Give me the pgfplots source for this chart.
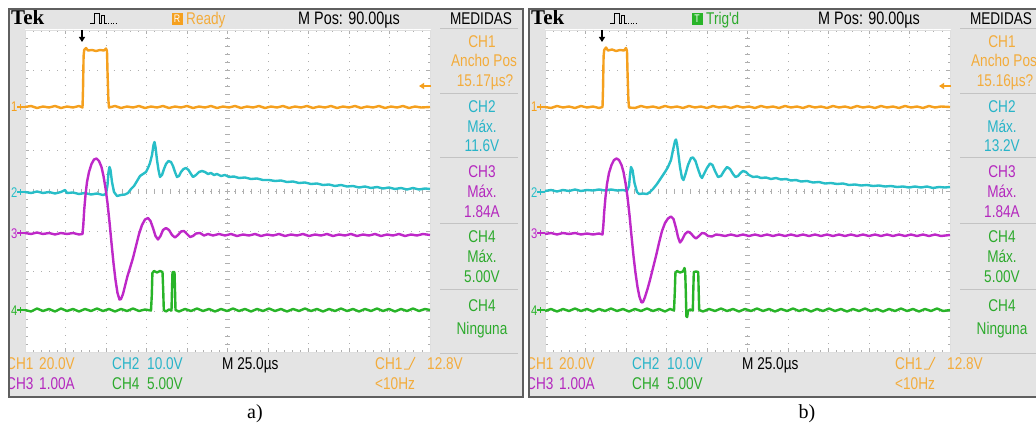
\documentclass[border=0pt]{standalone}
\usepackage{pgfplots}
\pgfplotsset{compat=1.18}
\usepackage{fontspec}
\usetikzlibrary{arrows.meta}
\setmainfont{Liberation Serif}
\newfontfamily\tek{Liberation Sans}[FakeStretch=0.8]
\newfontfamily\tekser{Liberation Serif}
\newcommand{\tekf}{\tek\fontsize{17}{17}\selectfont}
\definecolor{ch1}{RGB}{245,160,30}
\definecolor{ch1t}{RGB}{243,172,60}
\definecolor{ch2}{RGB}{40,190,200}
\definecolor{ch2t}{RGB}{40,180,200}
\definecolor{ch3}{RGB}{190,40,200}
\definecolor{ch3t}{RGB}{180,40,190}
\definecolor{ch4}{RGB}{40,180,40}
\definecolor{ch4t}{RGB}{45,170,45}
\definecolor{panelc}{RGB}{228,228,228}
\definecolor{gridc}{RGB}{175,175,175}
\definecolor{sepc}{RGB}{195,195,195}
\definecolor{framec}{RGB}{95,95,95}

\pgfplotsset{scopeax/.style={
  anchor=south west, width=405pt, height=322pt, scale only axis,
  xmin=25, xmax=430, ymin=-352, ymax=-30, clip=false,
  xtick={25,65.5,106,146.5,187,227.5,268,308.5,349,389.5,430},
  ytick={-352,-311.75,-271.5,-231.25,-191,-150.75,-110.5,-70.25,-30},
  xticklabels={}, yticklabels={},
  minor x tick num=4, minor y tick num=4,
  tick align=inside, major tick length=4pt, minor tick length=2.5pt,
  tick style={gridc, line width=0.8pt},
  axis line style={gridc!40, line width=0.4pt},
  grid=major,
  major grid style={draw=gridc, line width=0.9pt, dash pattern=on 0.9pt off 7.15pt},
  every axis plot/.append style={line width=2.4pt, line join=round}
}}

\newcommand{\bg}[1]{\begin{scope}[xshift=#1pt]
\fill[panelc] (9,-9) rectangle (523,-397);
\fill[white] (25,-29) rectangle (431,-352);
\foreach \i in {0,...,50}{\draw[gridc,line width=0.8pt] ({25+8.1*\i},-188.5) -- ({25+8.1*\i},-193.5);}
\foreach \i in {0,...,40}{\draw[gridc,line width=0.8pt] (225,{-30-8.05*\i}) -- (230,{-30-8.05*\i});}
\foreach \yy in {29,94,158,223,289,353}{\draw[sepc,line width=1pt] (440,-\yy) -- (518,-\yy);}
\end{scope}}

\newcommand{\chmark}[3]{%
 \node[anchor=base west,inner sep=0,text=#1,font=\tek\fontsize{14}{14}\selectfont] at (11,{-#2-5}) {#3};
 \draw[#1,line width=1.3pt] (17,-#2) -- (25,-#2);
 \draw[#1,line width=1.3pt] (20.5,{-#2+3}) -- (20.5,{-#2-3});}

\newcommand{\fg}[9]{\begin{scope}[xshift=#1pt]
 \begin{scope}
 \clip (9,-9) rectangle (523,-397);
 \node[anchor=base west,inner sep=0,font=\tekser\bfseries\fontsize{21}{21}\selectfont] at (11,-25) {Tek};
 \draw[line width=0.9pt] (90,-23)--(94,-23)--(94,-13)--(99,-13)--(99,-23)--(101,-23)--(101,-15)--(104,-15)--(104,-23)--(107,-23);
 \draw[line width=0.9pt, dash pattern=on 1pt off 1.5pt] (108,-23)--(118,-23);
 \node[fill=#2,text=white,inner sep=0pt,minimum width=11pt,minimum height=12pt,font=\tek\fontsize{11}{11}\selectfont] at (177,-19) {#3};
 \node[anchor=base west,inner sep=0,text=#5,font=\tekf] at (186,-25) {#4};
 \node[anchor=base west,inner sep=0,font=\tek\fontsize{18}{18}\selectfont] at (298,-25) {M Pos: 90.00µs};
 \node[anchor=base,inner sep=0,font=\tekf] at (481,-25) {MEDIDAS};
 \node[anchor=base,inner sep=0,text=ch1t,font=\tekf] at (482,-48) {CH1};
 \node[anchor=base,inner sep=0,text=ch1t,font=\tekf] at (484,-67) {Ancho Pos};
 \node[anchor=base,inner sep=0,text=ch1t,font=\tekf] at (485,-87) {#6};
 \node[anchor=base,inner sep=0,text=ch2t,font=\tekf] at (482,-113) {CH2};
 \node[anchor=base,inner sep=0,text=ch2t,font=\tekf] at (482,-132) {Máx.};
 \node[anchor=base,inner sep=0,text=ch2t,font=\tekf] at (482,-152) {#7};
 \node[anchor=base,inner sep=0,text=ch3t,font=\tekf] at (482,-177) {CH3};
 \node[anchor=base,inner sep=0,text=ch3t,font=\tekf] at (482,-197) {Máx.};
 \node[anchor=base,inner sep=0,text=ch3t,font=\tekf] at (482,-217) {1.84A};
 \node[anchor=base,inner sep=0,text=ch4t,font=\tekf] at (482,-242) {CH4};
 \node[anchor=base,inner sep=0,text=ch4t,font=\tekf] at (482,-262) {Máx.};
 \node[anchor=base,inner sep=0,text=ch4t,font=\tekf] at (482,-282) {5.00V};
 \node[anchor=base,inner sep=0,text=ch4t,font=\tekf] at (482,-311) {CH4};
 \node[anchor=base,inner sep=0,text=ch4t,font=\tekf] at (482,-334) {Ninguna};
 \node[anchor=base west,inner sep=0,text=ch1t,font=\tekf] at (6,-369) {CH1};
 \node[anchor=base west,inner sep=0,text=ch1t,font=\tekf] at (39,-369) {20.0V};
 \node[anchor=base west,inner sep=0,text=ch2t,font=\tekf] at (112,-369) {CH2};
 \node[anchor=base west,inner sep=0,text=ch2t,font=\tekf] at (147,-369) {10.0V};
 \node[anchor=base west,inner sep=0,font=\tekf] at (222,-369) {M 25.0µs};
 \node[anchor=base west,inner sep=0,text=ch1t,font=\tekf] at (375,-369) {CH1};
 \draw[ch1t,line width=1pt] (404,-369) -- (409,-369) -- (415,-357);
 \node[anchor=base west,inner sep=0,text=ch1t,font=\tekf] at (427,-369) {12.8V};
 \node[anchor=base west,inner sep=0,text=ch3t,font=\tekf] at (6,-389) {CH3};
 \node[anchor=base west,inner sep=0,text=ch3t,font=\tekf] at (39,-389) {1.00A};
 \node[anchor=base west,inner sep=0,text=ch4t,font=\tekf] at (112,-389) {CH4};
 \node[anchor=base west,inner sep=0,text=ch4t,font=\tekf] at (147,-389) {5.00V};
 \node[anchor=base west,inner sep=0,text=ch1t,font=\tekf] at (375,-389) {<10Hz};
 \end{scope}
 \draw[framec,line width=1.6pt] (9,-9) rectangle (523,-397);
 \chmark{ch1}{107}{1}
 \chmark{ch2}{192}{2}
 \chmark{ch3}{233}{3}
 \chmark{ch4}{310}{4}
 \draw[-{Triangle[length=5pt,width=6pt]},line width=1.5pt] (82,-30) -- (82,-42);
 \draw[ch1,-{Triangle[length=5pt,width=6pt]},line width=1.5pt] (431,-86) -- (419,-86);
 \node[anchor=base,inner sep=0,font=\fontsize{20}{20}\selectfont] at (#9,-418) {#8};
\end{scope}}

\begin{document}
\begin{tikzpicture}[x=1pt,y=1pt]
\path[use as bounding box] (0,0) rectangle (1036,-425);
\bg{0}
\bg{520}
% ---------------- panel a ----------------
\begin{axis}[scopeax, at={(25pt,-352pt)}]
\addplot[ch1] coordinates {(25,-107) (31,-106) (37,-108) (43,-106.5) (49,-107.5) (55,-106) (61,-108) (67,-106.5) (73,-107.5) (79,-106) (82.5,-107.5) (83,-90) (83.6,-56) (84.2,-50) (86,-48) (88,-50.5) (92,-50) (96,-51) (100,-50) (104,-50.5) (106,-48.5) (107,-51) (107.6,-75) (108.4,-100) (109,-107.5) (115,-106) (121,-108) (127,-106.5) (133,-107.5) (139,-106) (145,-108) (151,-106.5) (157,-107.5) (163,-106) (169,-108) (175,-106.5) (181,-107.5) (187,-106) (193,-108) (199,-106.5) (205,-107.5) (211,-106) (217,-108) (223,-106.5) (229,-107.5) (235,-106) (241,-108) (247,-106.5) (253,-107.5) (259,-106) (265,-108) (271,-106.5) (277,-107.5) (283,-106) (289,-108) (295,-106.5) (301,-107.5) (307,-106) (313,-108) (319,-106.5) (325,-107.5) (331,-106) (337,-108) (343,-106.5) (349,-107.5) (355,-106) (361,-108) (367,-106.5) (373,-107.5) (379,-106) (385,-108) (391,-106.5) (397,-107.5) (403,-106) (409,-108) (415,-106.5) (421,-107.5) (430,-107)};
\addplot[ch2] coordinates {(25,-192) (31,-193) (37,-191.5) (43,-193) (49,-192) (55,-193.5) (61,-192) (65,-190) (67,-193) (73,-192.5) (79,-194) (85,-193) (91,-194.5) (97,-193.5) (103,-195) (106,-194) (107.5,-185) (108.5,-172) (109.5,-167) (110.5,-170) (112,-182) (114,-192) (117,-196) (121,-195) (125,-194.5) (128,-193) (131,-189) (134,-186) (137,-181) (140,-176) (143,-174) (146,-172) (148,-168) (150,-163) (152,-155) (153.5,-145) (154.5,-142) (155.5,-147) (157,-160) (158.5,-170) (160,-177) (162,-175) (164,-169) (166,-164) (168.5,-161) (171,-162) (173,-166) (175,-172) (177,-177) (179,-176) (181,-172) (183.5,-169) (186,-168) (188.5,-170) (191,-174) (193,-177) (196,-175) (199,-172) (202,-171) (205,-172) (208,-174) (211,-173) (214,-175) (217,-174) (221,-176) (225,-175) (229,-177) (234,-176.5) (239,-178) (245,-177.5) (251,-179) (257,-178.5) (263,-180) (269,-180) (275,-181) (281,-180.5) (287,-182) (293,-181.5) (299,-183) (305,-182.5) (311,-184) (317,-183.5) (323,-185) (329,-184.5) (335,-186) (341,-185) (347,-186.5) (353,-186) (359,-187.5) (365,-186.5) (371,-188) (377,-187) (383,-188.5) (389,-187.5) (395,-189) (401,-188) (407,-189.5) (413,-188) (419,-189.5) (425,-188.5) (430,-189)};
\addplot[ch3] coordinates {(25,-233) (31,-234) (37,-232.5) (43,-234) (49,-233) (55,-234.5) (61,-233) (67,-234) (73,-233) (79,-234.5) (82.5,-234) (83.3,-225) (84.2,-210) (85.5,-195) (87,-182) (89,-172) (91.5,-164) (94,-159.5) (96.5,-158.5) (99,-161) (101.5,-167) (103.5,-176) (105.5,-188) (107.5,-203) (109.5,-222) (111.5,-243) (113.5,-263) (115.5,-280) (117.5,-293) (119.5,-299.5) (121,-299) (123,-294) (125,-286) (127.5,-276) (130,-268) (133,-258) (136,-246) (139,-234) (142,-225) (145,-219.5) (148,-218) (150.5,-221) (153,-228) (155.5,-236) (158,-239.5) (160.5,-236) (163,-230) (166,-228) (169,-230) (172,-235) (175,-237.5) (178,-235) (181,-231.5) (184,-231) (187,-234) (190,-237) (193,-236) (196,-233.5) (200,-233) (204,-235.5) (208,-234) (213,-235.5) (219,-234) (225,-235.5) (231,-234) (237,-236) (243,-234.5) (249,-235.5) (255,-234) (261,-236) (267,-234.5) (273,-235.5) (279,-234) (285,-236) (291,-234.5) (297,-235.5) (303,-234) (309,-236) (315,-234.5) (321,-235.5) (327,-234) (333,-236) (339,-234.5) (345,-235.5) (351,-234) (357,-236) (363,-234.5) (369,-235.5) (375,-234) (381,-236) (387,-234.5) (393,-235.5) (399,-234) (405,-236) (411,-234.5) (417,-235.5) (423,-234) (430,-235)};
\addplot[ch4] coordinates {(25,-310) (31,-311.5) (37,-308.5) (43,-311) (49,-309) (55,-311.5) (61,-308.5) (67,-311) (73,-309) (79,-311.5) (85,-309) (91,-311) (97,-308.5) (103,-311) (109,-309) (115,-311.5) (121,-309) (127,-311) (133,-308.5) (139,-311) (145,-309.5) (151,-310.5) (151.8,-295) (152.4,-273) (154,-271) (157,-272.5) (160,-271) (162.5,-272) (163.2,-290) (163.8,-310) (166,-311.5) (169,-309.5) (171.5,-310.5) (172,-290) (172.5,-272) (174.5,-272) (175,-290) (175.5,-310) (179,-311.5) (185,-309) (191,-311) (197,-308.5) (203,-311) (209,-309) (215,-311.5) (221,-309) (227,-311) (233,-308.5) (239,-311) (245,-309) (251,-311.5) (257,-309) (263,-311) (269,-308.5) (275,-311) (281,-309) (287,-311.5) (293,-309) (299,-311) (305,-308.5) (311,-311) (317,-309) (323,-311.5) (329,-309) (335,-311) (341,-308.5) (347,-311) (353,-309) (359,-311.5) (365,-309) (371,-311) (377,-308.5) (383,-311) (389,-309) (395,-311.5) (401,-309) (407,-311) (413,-308.5) (419,-311) (425,-309) (430,-310)};
\end{axis}
% ---------------- panel b ----------------
\begin{axis}[scopeax, at={(545pt,-352pt)}]
\addplot[ch1] coordinates {(25,-107) (31,-108) (37,-106) (43,-107.5) (49,-106.5) (55,-108) (61,-106) (67,-107.5) (73,-106.5) (79,-108) (82.5,-107) (83,-90) (83.6,-56) (84.2,-50) (86,-47.5) (88,-50.5) (92,-49.5) (96,-51) (100,-50) (104,-50.5) (106,-48) (107,-51) (107.6,-75) (108.4,-100) (109,-107.5) (115,-108) (121,-106) (127,-107.5) (133,-106.5) (139,-108) (145,-106) (151,-107.5) (157,-106.5) (163,-108) (169,-106) (175,-107.5) (181,-106.5) (187,-108) (193,-106) (199,-107.5) (205,-106.5) (211,-108) (217,-106) (223,-107.5) (229,-106.5) (235,-108) (241,-106) (247,-107.5) (253,-106.5) (259,-108) (265,-106) (271,-107.5) (277,-106.5) (283,-108) (289,-106) (295,-107.5) (301,-106.5) (307,-108) (313,-106) (319,-107.5) (325,-106.5) (331,-108) (337,-106) (343,-107.5) (349,-106.5) (355,-108) (361,-106) (367,-107.5) (373,-106.5) (379,-108) (385,-106) (391,-107.5) (397,-106.5) (403,-108) (409,-106) (415,-107.5) (421,-106.5) (430,-107)};
\addplot[ch2] coordinates {(25,-191) (31,-190) (37,-191.5) (43,-190) (49,-191) (55,-189.5) (61,-191) (67,-190) (73,-190.5) (79,-189.5) (85,-190.5) (91,-189.5) (97,-190.5) (103,-190) (107,-191) (109,-186) (110,-175) (111,-167) (112.5,-170) (114.5,-183) (117,-192) (119,-194) (123,-193.5) (127,-194) (130,-192) (133,-189) (137,-184) (141,-178) (145,-172) (148,-167) (151,-160) (153,-150) (155,-141) (156,-139.5) (157,-144) (158.5,-155) (160,-167) (162,-178) (163.5,-180) (165.5,-174) (168,-165) (171,-158) (173,-157.5) (175.5,-161) (178,-169) (180.5,-176) (182,-178) (184,-174) (187,-168) (190,-163.5) (192.5,-165) (195,-171) (198,-177) (201,-176) (204,-171) (207,-167) (210,-169) (213,-174) (215.5,-177) (218,-176) (220.5,-173) (223,-171) (226,-172) (229,-175) (233,-177) (237,-176.5) (241,-178) (246,-177.5) (251,-179) (256,-178) (261,-179.5) (266,-179) (271,-180.5) (276,-180) (281,-181.5) (287,-181) (293,-182.5) (299,-182) (305,-183.5) (311,-183) (317,-184) (323,-183.5) (329,-185) (335,-184.5) (341,-185.5) (347,-185) (353,-186) (359,-185.5) (365,-186.5) (371,-186) (377,-187) (383,-186.5) (389,-187.5) (395,-186.5) (401,-187.5) (407,-186.5) (413,-188) (419,-187) (425,-187.5) (430,-187)};
\addplot[ch3] coordinates {(25,-234) (31,-233) (37,-234.5) (43,-233) (49,-234) (55,-233) (61,-234.5) (67,-233.5) (73,-234.5) (79,-233.5) (82.5,-234.5) (83.3,-226) (84.2,-212) (85.5,-197) (87,-184) (89,-173) (91.5,-165) (94,-160) (96.5,-158.5) (99,-160) (101.5,-165) (103.5,-172) (105.5,-183) (107.5,-197) (109.5,-215) (111.5,-236) (113.5,-256) (115.5,-273) (117.5,-287) (119.5,-297) (121.5,-302.5) (123,-302) (125,-297) (127.5,-289) (130,-280) (133,-268) (136,-256) (139,-243) (142,-231) (145,-223) (148,-218.5) (151,-216.5) (153.5,-219) (156,-228) (158,-237) (160,-242.5) (162,-240) (165,-234) (168,-231.5) (171,-233.5) (174,-237) (176,-238.5) (179,-236) (182,-233) (185,-233.5) (188,-236) (192,-236.5) (196,-234.5) (200,-235) (205,-236) (211,-234.5) (217,-236) (223,-234.5) (229,-236) (235,-234.5) (241,-236) (247,-234.5) (253,-236) (259,-234.5) (265,-236) (271,-234.5) (277,-236) (283,-234.5) (289,-236) (295,-234.5) (301,-236) (307,-234.5) (313,-236) (319,-234.5) (325,-236) (331,-234.5) (337,-236) (343,-234.5) (349,-236) (355,-234.5) (361,-236) (367,-234.5) (373,-236) (379,-234.5) (385,-236) (391,-234.5) (397,-236) (403,-234.5) (409,-236) (415,-234.5) (421,-236) (430,-235)};
\addplot[ch4] coordinates {(25,-311) (31,-309) (37,-311.5) (43,-309) (49,-311) (55,-308.5) (61,-311) (67,-309) (73,-311.5) (79,-309) (85,-311) (91,-308.5) (97,-311) (103,-309) (109,-311.5) (115,-309) (121,-311) (127,-308.5) (133,-311) (139,-309) (145,-311.5) (150,-309) (154,-310.5) (154.8,-292) (155.4,-273) (157,-271) (160,-272.5) (163,-271.5) (164.5,-268) (165.2,-272) (165.8,-292) (166.4,-316.5) (167.2,-317) (168,-311) (170,-309.5) (172.8,-310.5) (173.3,-290) (173.8,-272) (176,-271.5) (178.2,-272) (178.7,-292) (179.2,-310) (183,-311.5) (189,-309) (195,-311) (201,-308.5) (207,-311) (213,-309) (219,-311.5) (225,-309) (231,-311) (237,-308.5) (243,-311) (249,-309) (255,-311.5) (261,-309) (267,-311) (273,-308.5) (279,-311) (285,-309) (291,-311.5) (297,-309) (303,-311) (309,-308.5) (315,-311) (321,-309) (327,-311.5) (333,-309) (339,-311) (345,-308.5) (351,-311) (357,-309) (363,-311.5) (369,-309) (375,-311) (381,-308.5) (387,-311) (393,-309) (399,-311.5) (405,-309) (411,-311) (417,-308.5) (423,-311) (430,-310)};
\end{axis}
\fg{0}{ch1}{R}{Ready}{ch1t}{15.17µs?}{11.6V}{a)}{255}
\fg{520}{ch4}{T}{Trig'd}{ch4t}{15.16µs?}{13.2V}{b)}{287}
\end{tikzpicture}
\end{document}
